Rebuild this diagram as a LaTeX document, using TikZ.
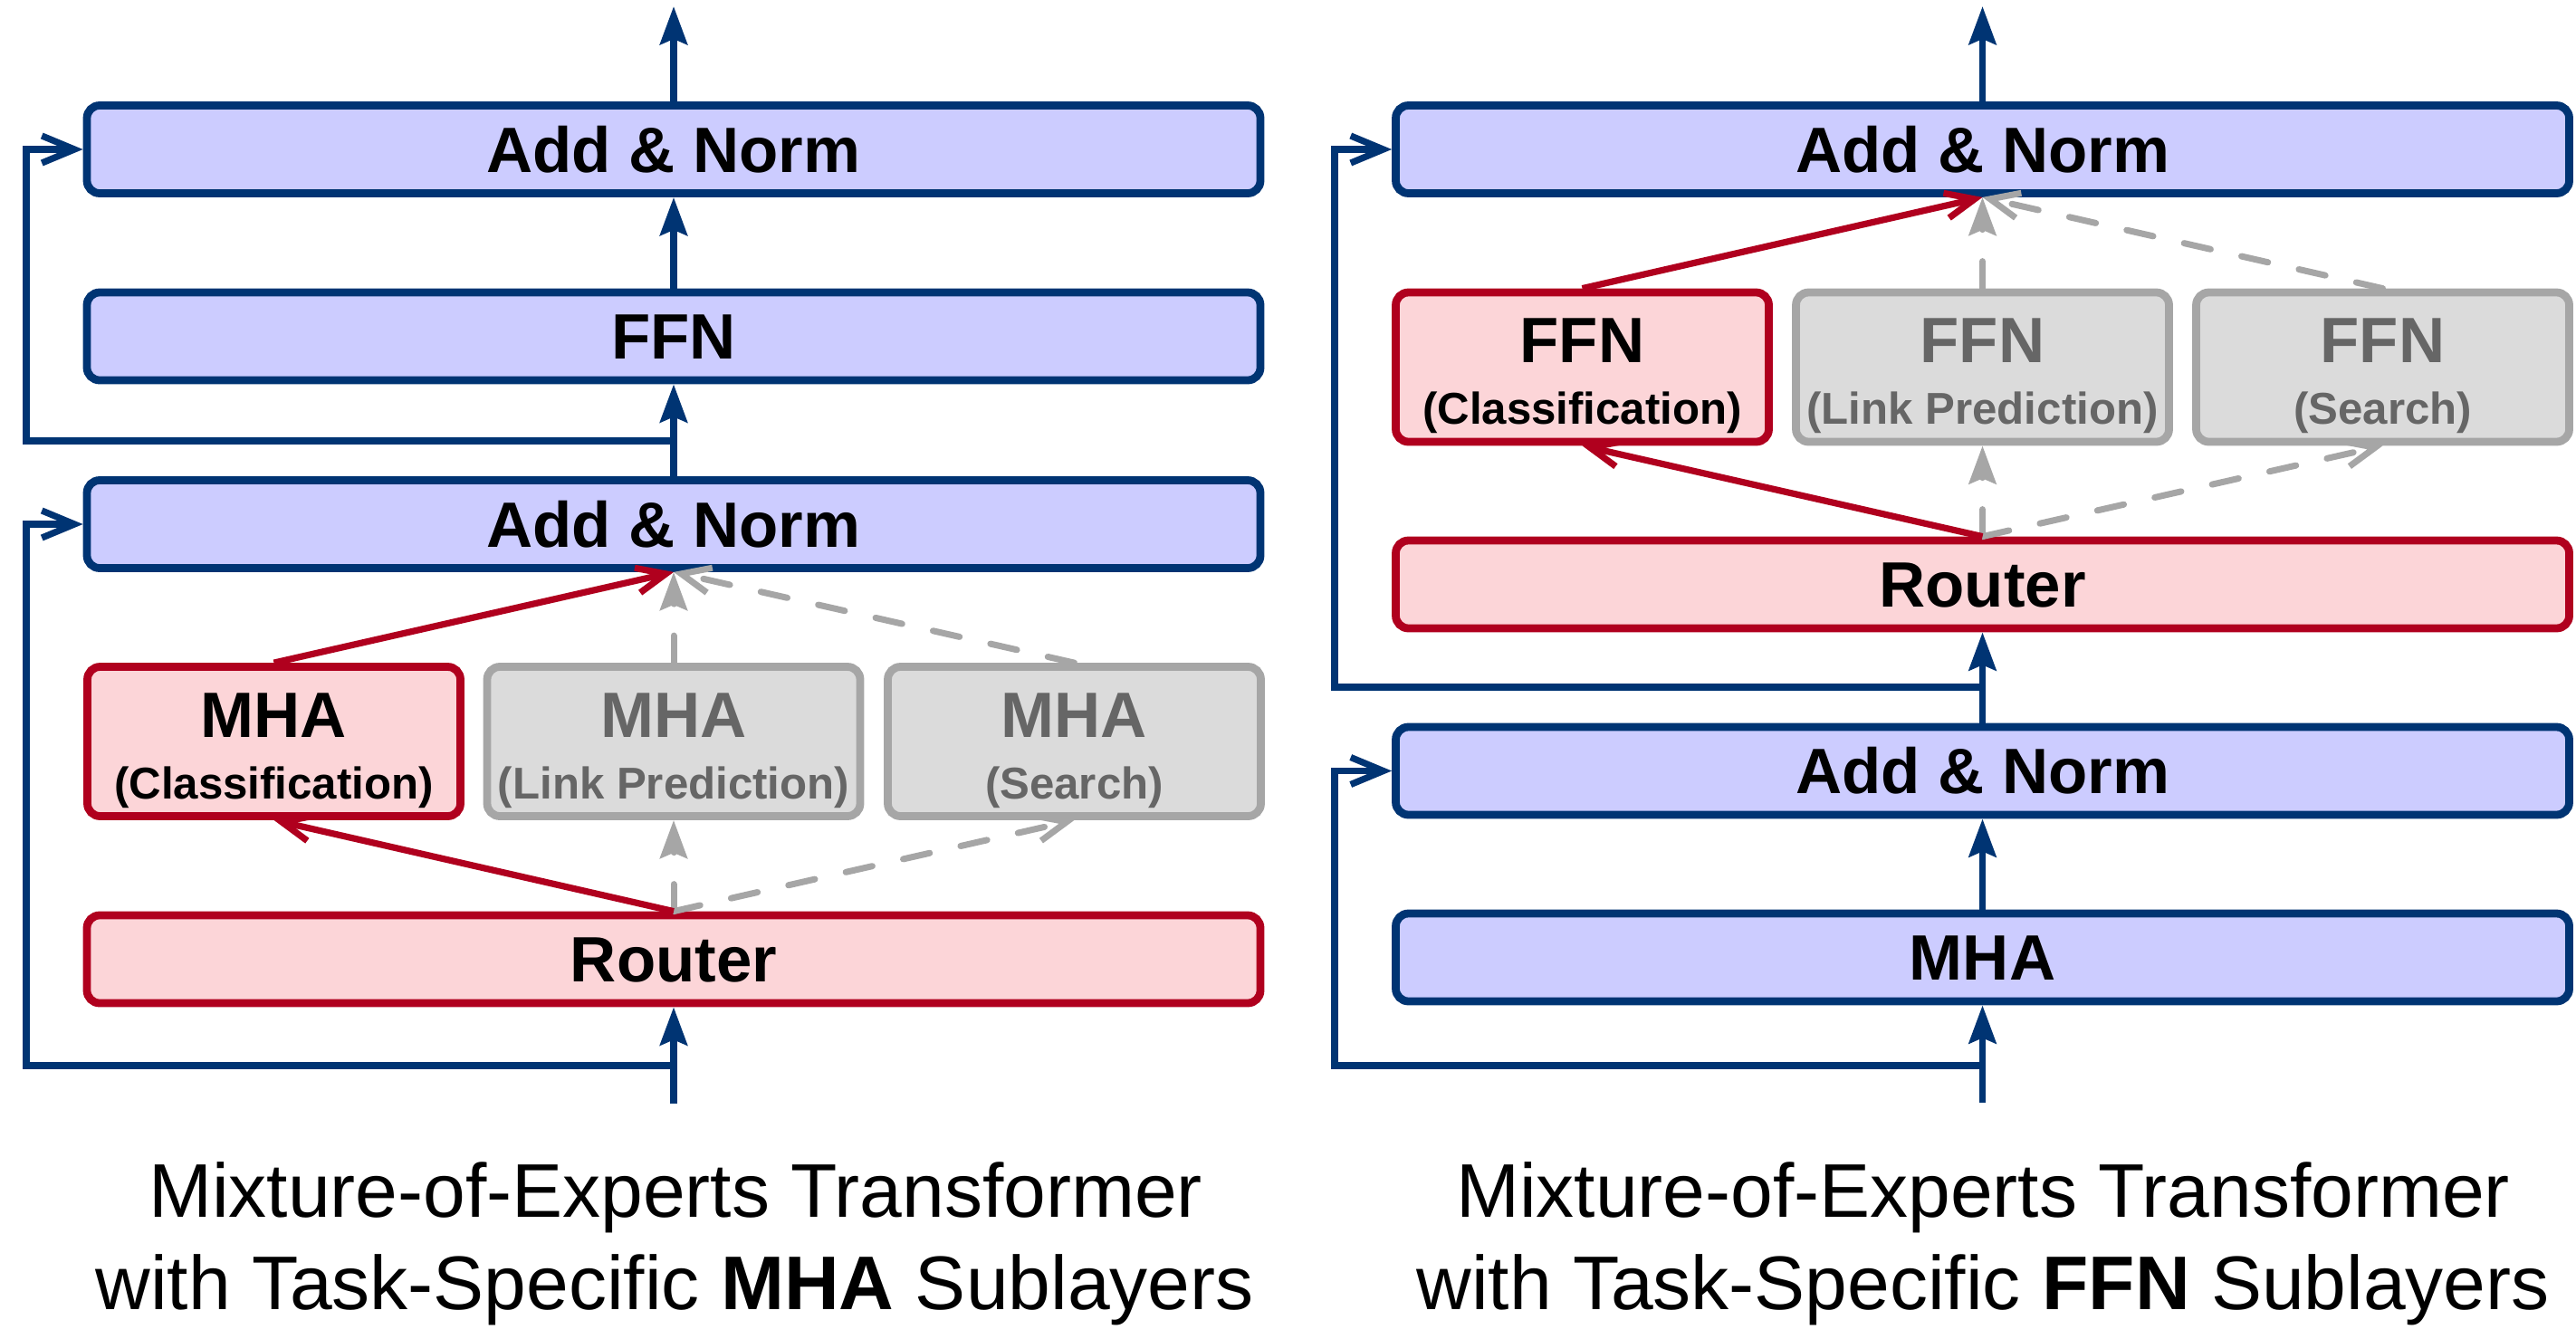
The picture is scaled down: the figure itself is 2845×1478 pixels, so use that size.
\documentclass[tikz,border=0pt]{standalone}
\usepackage{fontspec}
\setmainfont{Liberation Sans}
\usetikzlibrary{arrows.meta,calc}
\definecolor{navy}{RGB}{0,52,115}
\definecolor{bluefill}{RGB}{204,204,255}
\definecolor{redline}{RGB}{176,0,30}
\definecolor{redfill}{RGB}{252,213,216}
\definecolor{grayline}{RGB}{166,166,166}
\definecolor{grayfill}{RGB}{219,219,219}
\definecolor{graytext}{RGB}{102,102,102}
\begin{document}
\begin{tikzpicture}[x=0.25pt,y=-0.25pt,
  box/.style={rounded corners=3.5pt,line width=2.2pt,minimum width=324pt,minimum height=24.25pt,inner sep=0pt,
    font=\fontsize{17.7}{20}\selectfont\bfseries,text height=12.7pt,text depth=0pt},
  bluebox/.style={box,draw=navy,fill=bluefill},
  routerbox/.style={box,draw=redline,fill=redfill},
  expert/.style={rounded corners=3.5pt,line width=2.2pt,minimum width=103pt,minimum height=41.25pt,inner sep=0pt},
  redexp/.style={expert,draw=redline,fill=redfill},
  grayexp/.style={expert,draw=grayline,fill=grayfill},
  bigl/.style={anchor=base,inner sep=0pt,font=\fontsize{17.7}{20}\selectfont\bfseries},
  smalll/.style={anchor=base,inner sep=0pt,font=\fontsize{12.3}{14}\selectfont\bfseries},
  conn/.style={draw=navy,line width=1.9pt,-{Stealth[length=10.5pt,width=7.5pt,inset=1.5pt]}},
  resid/.style={draw=navy,line width=1.8pt,line join=miter,-{Straight Barb[length=9pt,width=7.5pt]}},
  redarr/.style={draw=redline,line width=1.8pt,-{Straight Barb[length=8pt,width=7pt]}},
  grayv/.style={draw=grayline,line width=1.75pt,dash pattern=on 7.5pt off 8.75pt,line cap=round,-{Stealth[length=10.5pt,width=7.5pt,inset=1.5pt]}},
  grayd/.style={draw=grayline,line width=1.75pt,dash pattern=on 7.5pt off 8.75pt,line cap=round,-{Straight Barb[length=8pt,width=7pt]}},
  caption/.style={anchor=base,inner sep=0pt,font=\fontsize{21}{25}\selectfont}
]
\useasboundingbox (0,0) rectangle (2845,1478);

% ---------------- Left panel ----------------
\node[bluebox] (ltop) at (744,165) {Add \& Norm};
\node[bluebox] (lffn) at (744,371.5) {FFN};
\node[bluebox] (lan) at (744,579) {Add \& Norm};
\node[redexp] (lc) at (302.5,819) {};
\node[grayexp] (ll) at (744,819) {};
\node[grayexp] (ls) at (1186.5,819) {};
\node[routerbox] (lrt) at (744,1059.5) {Router};

\node[bigl] (lcT) at ($(lc.center)+(0,-5)$) {MHA};
\node[smalll] (lcS) at ($(lc.center)+(0,63)$) {(Classification)};
\node[bigl,text=graytext] (llT) at ($(ll.center)+(0,-5)$) {MHA};
\node[smalll,text=graytext] (llS) at ($(ll.center)+(0,63)$) {(Link Prediction)};
\node[bigl,text=graytext] (lsT) at ($(ls.center)+(0,-5)$) {MHA};
\node[smalll,text=graytext] (lsS) at ($(ls.center)+(0,63)$) {(Search)};

\coordinate (lin) at (744,1219);
\coordinate (lout) at (744,7);
\coordinate (lb1) at (744,1177);
\coordinate (lk1) at (29,1177);
\coordinate (lb2) at (744,487);
\coordinate (lk2) at (29,487);

\draw[resid] (lb1) -- (lk1) |- (lan.west);
\draw[resid] (lb2) -- (lk2) |- (ltop.west);
\draw[conn] (lin) -- (lrt.south);
\draw[conn] (lan.north) -- (lffn.south);
\draw[conn] (lffn.north) -- (ltop.south);
\draw[conn] (ltop.north) -- (lout);

\draw[grayd] (lrt.north) -- (ls.south);
\draw[grayv] (lrt.north) -- (ll.south);
\draw[grayd] (ls.north) -- (lan.south);
\draw[grayv] (ll.north) -- (lan.south);
\draw[redarr] (lrt.north) -- (lc.south);
\draw[redarr] (lc.north) -- (lan.south);

\node[caption] (lcap1) at (746,1344) {Mixture-of-Experts Transformer};
\node[caption] (lcap2) at (745,1446) {with Task-Specific \textbf{MHA} Sublayers};

% ---------------- Right panel ----------------
\node[bluebox] (rtop) at (2189.5,165) {Add \& Norm};
\node[redexp] (rc) at (1747.5,405.5) {};
\node[grayexp] (rl) at (2189.5,405.5) {};
\node[grayexp] (rs) at (2631.5,405.5) {};
\node[routerbox] (rrt) at (2189.5,645.5) {Router};
\node[bluebox] (ran) at (2189.5,851.5) {Add \& Norm};
\node[bluebox] (rmha) at (2189.5,1057.5) {MHA};

\node[bigl] (rcT) at ($(rc.center)+(0,-5)$) {FFN};
\node[smalll] (rcS) at ($(rc.center)+(0,63)$) {(Classification)};
\node[bigl,text=graytext] (rlT) at ($(rl.center)+(0,-5)$) {FFN};
\node[smalll,text=graytext] (rlS) at ($(rl.center)+(0,63)$) {(Link Prediction)};
\node[bigl,text=graytext] (rsT) at ($(rs.center)+(0,-5)$) {FFN};
\node[smalll,text=graytext] (rsS) at ($(rs.center)+(0,63)$) {(Search)};

\coordinate (rin) at (2189.5,1218);
\coordinate (rout) at (2189.5,7);
\coordinate (rb1) at (2189.5,1177);
\coordinate (rk1) at (1474,1177);
\coordinate (rb2) at (2189.5,759);
\coordinate (rk2) at (1474,759);

\draw[resid] (rb1) -- (rk1) |- (ran.west);
\draw[resid] (rb2) -- (rk2) |- (rtop.west);
\draw[conn] (rin) -- (rmha.south);
\draw[conn] (rmha.north) -- (ran.south);
\draw[conn] (ran.north) -- (rrt.south);
\draw[conn] (rtop.north) -- (rout);

\draw[grayd] (rrt.north) -- (rs.south);
\draw[grayv] (rrt.north) -- (rl.south);
\draw[grayd] (rs.north) -- (rtop.south);
\draw[grayv] (rl.north) -- (rtop.south);
\draw[redarr] (rrt.north) -- (rc.south);
\draw[redarr] (rc.north) -- (rtop.south);

\node[caption] (rcap1) at (2190,1344) {Mixture-of-Experts Transformer};
\node[caption] (rcap2) at (2190,1446) {with Task-Specific \textbf{FFN} Sublayers};
\end{tikzpicture}
\end{document}
